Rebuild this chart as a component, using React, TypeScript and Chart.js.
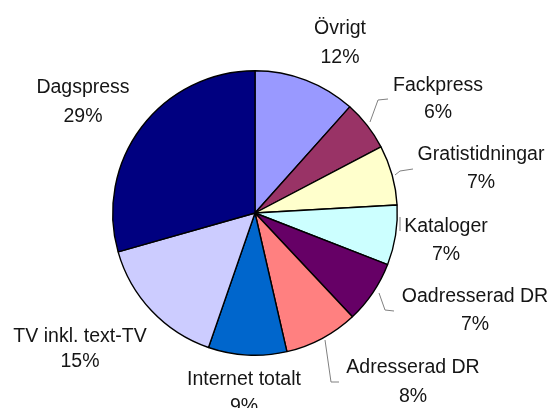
import React, { useEffect, useRef } from "react";
import { Chart, registerables } from "chart.js";

Chart.register(...registerables);

const categories = [
  "Övrigt",
  "Fackpress",
  "Gratistidningar",
  "Kataloger",
  "Oadresserad DR",
  "Adresserad DR",
  "Internet totalt",
  "TV inkl. text-TV",
  "Dagspress",
];
const shares = [11.6, 5.7, 6.8, 6.8, 7.1, 8.4, 8.9, 15.3, 29.4];
const sliceColors = [
  "#9999FF",
  "#993366",
  "#FFFFCC",
  "#CCFFFF",
  "#660066",
  "#FF8080",
  "#0066CC",
  "#CCCCFF",
  "#000080",
];

// label placement relative to pie centre: [x centre, baseline line 1, baseline line 2]
const labelLayout: [number, number, number][] = [
  [85, -179, -150],
  [183, -122, -95],
  [226, -53, -25],
  [191, 19, 47],
  [220, 89, 117],
  [158, 160, 189],
  [-11, 172, 199],
  [-175, 129, 154],
  [-172, -120, -91],
];

// leader lines relative to pie centre
const leaderLayout: ([number, number][] | null)[] = [
  null,
  [[115, -91], [123, -113], [133, -114]],
  [[140, -38], [145, -42], [158, -44]],
  [[145, 18], [145, 4]],
  [[124, 80], [130, 97], [139, 98]],
  [[70, 127], [76, 169], [84, 169]],
  null,
  null,
  null,
];

const labelPlugin = {
  id: "outerLabels",
  afterDraw(chart: any) {
    const ctx = chart.ctx;
    const meta = chart.getDatasetMeta(0);
    if (!meta.data.length) return;
    const cx = meta.data[0].x;
    const cy = meta.data[0].y;
    const values = chart.data.datasets[0].data as number[];
    const total = values.reduce((a: number, b: number) => a + b, 0);
    ctx.save();
    ctx.strokeStyle = "#808080";
    ctx.lineWidth = 1;
    leaderLayout.forEach((pts) => {
      if (!pts) return;
      ctx.beginPath();
      pts.forEach(([dx, dy], i) => {
        if (i === 0) ctx.moveTo(cx + dx, cy + dy);
        else ctx.lineTo(cx + dx, cy + dy);
      });
      ctx.stroke();
    });
    ctx.fillStyle = "#151515";
    ctx.font = '19.5px "Liberation Sans", Arial, sans-serif';
    ctx.textAlign = "center";
    ctx.textBaseline = "alphabetic";
    chart.data.labels.forEach((lab: string, i: number) => {
      const [dx, b1, b2] = labelLayout[i];
      const pct = Math.round((values[i] / total) * 100) + "%";
      ctx.fillText(lab, cx + dx, cy + b1);
      ctx.fillText(pct, cx + dx, cy + b2);
    });
    ctx.restore();
  },
};

export default function App() {
  const ref = useRef<HTMLCanvasElement>(null);
  useEffect(() => {
    if (!ref.current) return;
    const chart = new Chart(ref.current, {
      type: "pie",
      data: {
        labels: categories,
        datasets: [
          {
            data: shares,
            backgroundColor: sliceColors,
            borderColor: "#000000",
            borderWidth: 1.4,
            borderAlign: "center",
          } as any,
        ],
      },
      options: {
        responsive: false,
        animation: false,
        layout: { padding: { left: 112, right: 156, top: 70, bottom: 52 } },
        plugins: {
          legend: { display: false },
          tooltip: { enabled: false },
        },
      },
      plugins: [labelPlugin],
    });
    return () => chart.destroy();
  }, []);
  return (
    <div style={{ position: "fixed", left: 0, top: 0, width: 554, height: 408, background: "#fff" }}>
      <canvas ref={ref} width={554} height={408} style={{ width: 554, height: 408 }} />
    </div>
  );
}
